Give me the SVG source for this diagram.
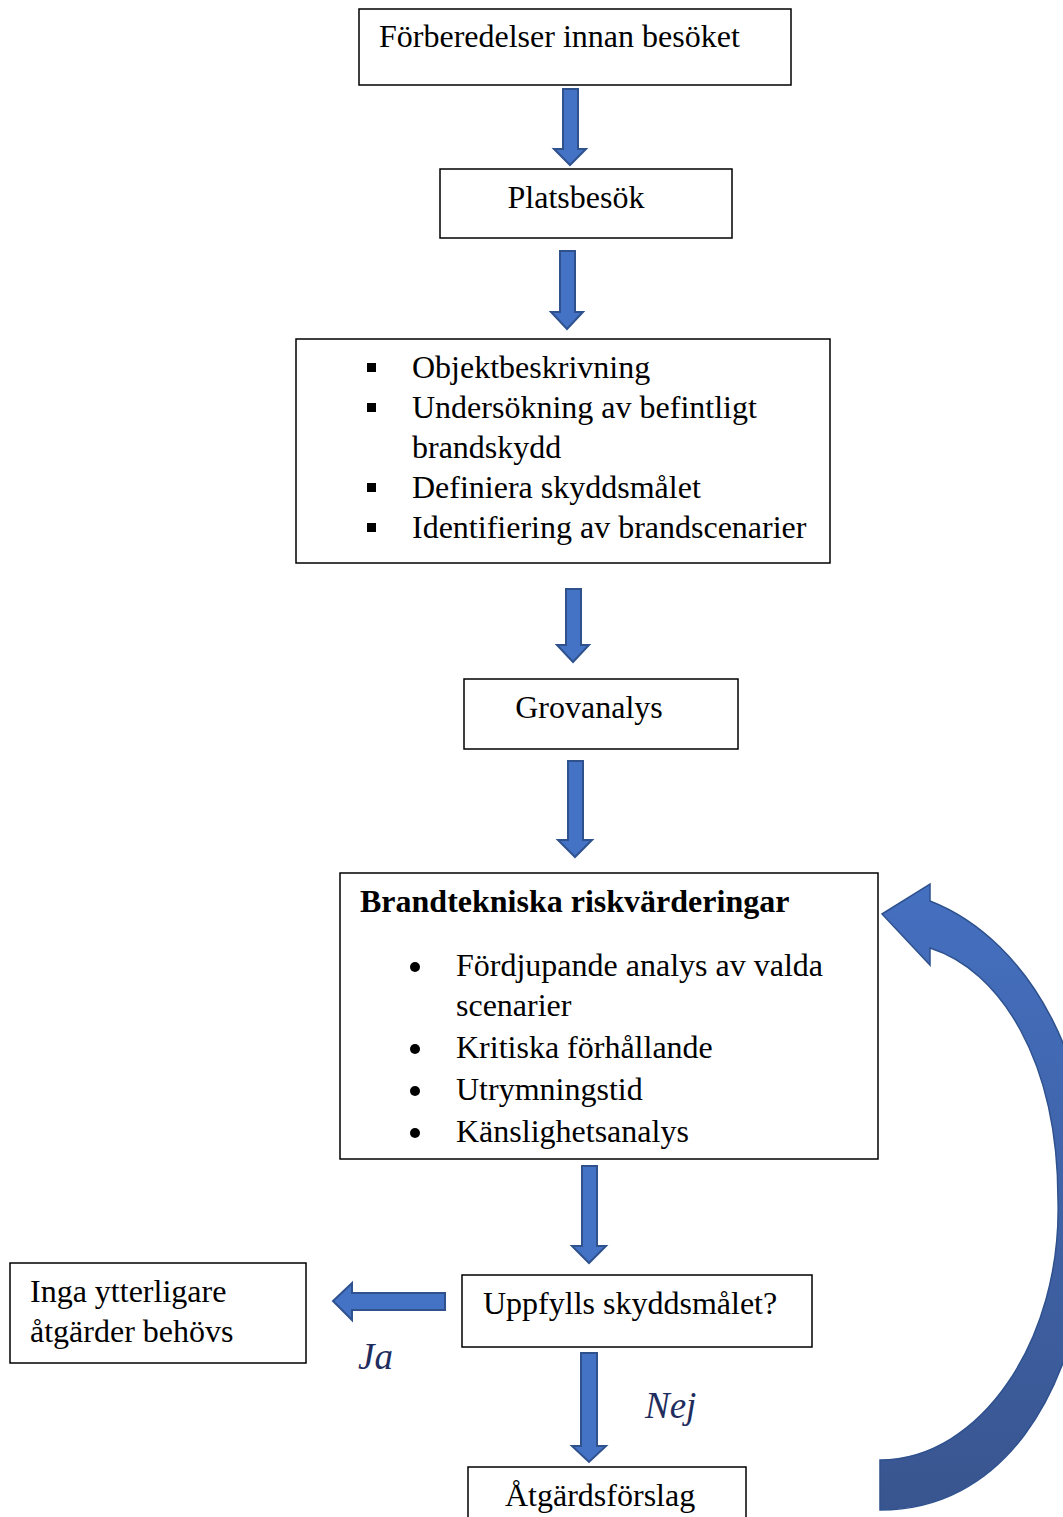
<svg xmlns="http://www.w3.org/2000/svg" width="1063" height="1517" viewBox="0 0 1063 1517">
<style>
.box{fill:#fff;stroke:#000;stroke-width:1.5}
.t{font-family:"Liberation Serif","Times New Roman",serif;font-size:32px;fill:#000}
.b{font-weight:bold}
.lbl{font-family:"Liberation Serif","Times New Roman",serif;font-size:37px;font-style:italic;fill:#1f2d5e}
.arr{fill:#4472c4;stroke:#2f528f;stroke-width:2}
</style>
<defs>
<linearGradient id="cg" x1="0" y1="0" x2="0" y2="1">
<stop offset="0" stop-color="#4570c0"/>
<stop offset="1" stop-color="#39558f"/>
</linearGradient>
</defs>
<g id="connectors">
<path class="arr" d="M563,89 H578 V149 H586 L570,165 L554,149 H563 Z"/>
<path class="arr" d="M560,251 H575 V312 H583 L567,329 L551,312 H560 Z"/>
<path class="arr" d="M566,589 H581 V645 H589 L573,662 L557,645 H566 Z"/>
<path class="arr" d="M568,761 H583 V840 H592 L575,857 L558,840 H568 Z"/>
<path class="arr" d="M582,1166 H597 V1246 H606 L589,1263 L572,1246 H582 Z"/>
<path class="arr" d="M445,1293 V1310 H352 V1320 L333,1301 L352,1283 V1293 Z"/>
<path class="arr" d="M581,1353 H597 V1446 H606 L589,1462 L572,1446 H581 Z"/>
<path fill="url(#cg)" stroke="#2f528f" stroke-width="1.5" d="M882,914 L930,884 V901 C1030,940 1105,1070 1090,1240 C1075,1400 1000,1510 880,1510 V1460 C980,1460 1062,1340 1058,1200 C1058,1060 1000,970 930,948 V965 Z"/>
</g>
<g id="n1"><rect class="box" x="359" y="9" width="432" height="76"/><text class="t" x="379" y="47">Förberedelser innan besöket</text></g>
<g id="n2"><rect class="box" x="440" y="169" width="292" height="69"/><text class="t" x="576" y="208" text-anchor="middle">Platsbesök</text></g>
<g id="n3"><rect class="box" x="296" y="339" width="534" height="224"/>
<rect x="367" y="363" width="9" height="9"/><rect x="367" y="403" width="9" height="9"/><rect x="367" y="483" width="9" height="9"/><rect x="367" y="523" width="9" height="9"/>
<text class="t" x="412" y="378">Objektbeskrivning</text>
<text class="t" x="412" y="418">Undersökning av befintligt</text>
<text class="t" x="412" y="458">brandskydd</text>
<text class="t" x="412" y="498">Definiera skyddsmålet</text>
<text class="t" x="412" y="538">Identifiering av brandscenarier</text></g>
<g id="n4"><rect class="box" x="464" y="679" width="274" height="70"/><text class="t" x="589" y="718" text-anchor="middle">Grovanalys</text></g>
<g id="n5"><rect class="box" x="340" y="873" width="538" height="286"/>
<text class="t b" x="360" y="912">Brandtekniska riskvärderingar</text>
<circle cx="415" cy="967" r="5"/><circle cx="415" cy="1049" r="5"/><circle cx="415" cy="1091" r="5"/><circle cx="415" cy="1133" r="5"/>
<text class="t" x="456" y="976">Fördjupande analys av valda</text>
<text class="t" x="456" y="1016">scenarier</text>
<text class="t" x="456" y="1058">Kritiska förhållande</text>
<text class="t" x="456" y="1100">Utrymningstid</text>
<text class="t" x="456" y="1142">Känslighetsanalys</text></g>
<g id="n6"><rect class="box" x="10" y="1263" width="296" height="100"/><text class="t" x="30" y="1302">Inga ytterligare</text><text class="t" x="30" y="1342">åtgärder behövs</text></g>
<g id="n7"><rect class="box" x="462" y="1275" width="350" height="72"/><text class="t" x="483" y="1314">Uppfylls skyddsmålet?</text></g>
<g id="n8"><rect class="box" x="468" y="1467" width="278" height="60"/><text class="t" x="505" y="1506">Åtgärdsförslag</text></g>
<text class="lbl" x="358" y="1369">Ja</text>
<text class="lbl" x="645" y="1418">Nej</text>
</svg>
